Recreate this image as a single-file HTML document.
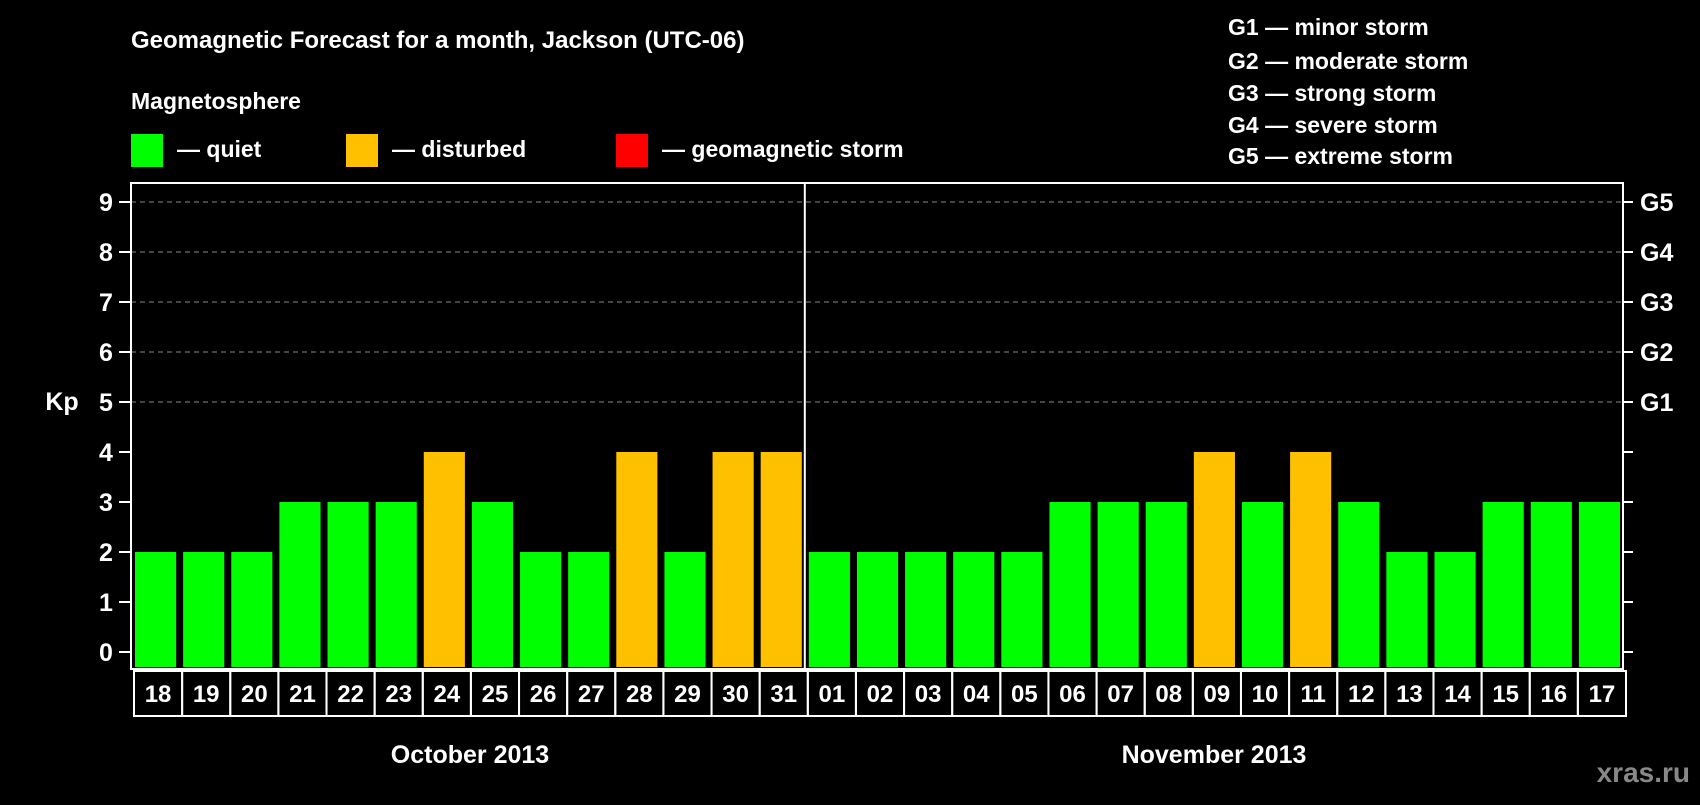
<!DOCTYPE html>
<html><head><meta charset="utf-8"><style>
body{margin:0;background:#000;width:1700px;height:800px;overflow:hidden}
svg text{font-family:"Liberation Sans",Arial,sans-serif;font-weight:bold;fill:#fff}
</style></head><body>
<svg id="chart" width="1700" height="800" xmlns="http://www.w3.org/2000/svg">
<text x="131" y="48" font-size="24">Geomagnetic Forecast for a month, Jackson (UTC-06)</text>
<text x="131" y="109" font-size="23">Magnetosphere</text>
<rect x="131" y="134" width="32" height="33" fill="#00ff00"/>
<text x="177" y="157" font-size="23">— quiet</text>
<rect x="346" y="134" width="32" height="33" fill="#ffc000"/>
<text x="392" y="157" font-size="23">— disturbed</text>
<rect x="616" y="134" width="32" height="33" fill="#ff0000"/>
<text x="662" y="157" font-size="23">— geomagnetic storm</text>
<g font-size="23">
<text x="1228" y="35">G1 — minor storm</text>
<text x="1228" y="69">G2 — moderate storm</text>
<text x="1228" y="101">G3 — strong storm</text>
<text x="1228" y="133">G4 — severe storm</text>
<text x="1228" y="164">G5 — extreme storm</text>
</g>
<text x="62" y="410" font-size="25" text-anchor="middle">Kp</text>
<text x="470" y="763" font-size="25" text-anchor="middle">October 2013</text>
<text x="1214" y="763" font-size="25" text-anchor="middle">November 2013</text>
<text x="1690" y="782" font-size="28" text-anchor="end" style="fill:#888">xras.ru</text>
<g id="g"></g>
</svg>
<script>
const days=["18","19","20","21","22","23","24","25","26","27","28","29","30","31","01","02","03","04","05","06","07","08","09","10","11","12","13","14","15","16","17"];
const kp=[2,2,2,3,3,3,4,3,2,2,4,2,4,4,2,2,2,2,2,3,3,3,4,3,4,3,2,2,3,3,3];
const yTicks=[0,1,2,3,4,5,6,7,8,9];
const gLabels=["G1","G2","G3","G4","G5"];
const gLevels=[5,6,7,8,9];
const L=131,R=1623,T=183,B=669,Y0=652,UNIT=50;
const pitch=(R-L)/days.length;
const y=v=>Y0-v*UNIT;
const x=i=>L+i*pitch;
const g=document.getElementById('g');
const NS="http://www.w3.org/2000/svg";
function mk(t,a){const e=document.createElementNS(NS,t);for(const k in a)e.setAttribute(k,a[k]);g.appendChild(e);return e;}
gLevels.forEach(v=>{const e=mk('line',{x1:L,x2:R,y1:y(v),y2:y(v),stroke:'#888','stroke-dasharray':'5,4','stroke-width':1});

});
kp.forEach((v,i)=>{const e=mk('rect',{x:x(i)+4,y:y(v),width:pitch-7,height:Y0-y(v)+15,fill:v>=5?'#ff0000':v>=4?'#ffc000':'#00ff00'});

});
const f=mk('rect',{x:L,y:T,width:R-L,height:B-T,fill:'none',stroke:'#fff','stroke-width':2});


const dv=mk('line',{x1:x(14),x2:x(14),y1:T,y2:B,stroke:'#fff','stroke-width':2});


yTicks.forEach(v=>{
const t=mk('line',{x1:L-12,x2:L,y1:y(v),y2:y(v),stroke:'#fff','stroke-width':2});


const t2=mk('line',{x1:R,x2:R+10,y1:y(v),y2:y(v),stroke:'#fff','stroke-width':2});


const l=mk('text',{x:106,y:y(v)+9,'font-size':25,'text-anchor':'middle'});l.textContent=v;

});
gLabels.forEach((s,i)=>{const l=mk('text',{x:1640,y:y(gLevels[i])+9,'font-size':25});l.textContent=s;

});
days.forEach((d,i)=>{
const c=mk('rect',{x:x(i)+3,y:B+2,width:pitch,height:45,fill:'none',stroke:'#fff','stroke-width':2});


const l=mk('text',{x:x(i)+3+pitch/2,y:B+33,'font-size':24,'text-anchor':'middle'});l.textContent=d;

});
</script>
</body></html>
